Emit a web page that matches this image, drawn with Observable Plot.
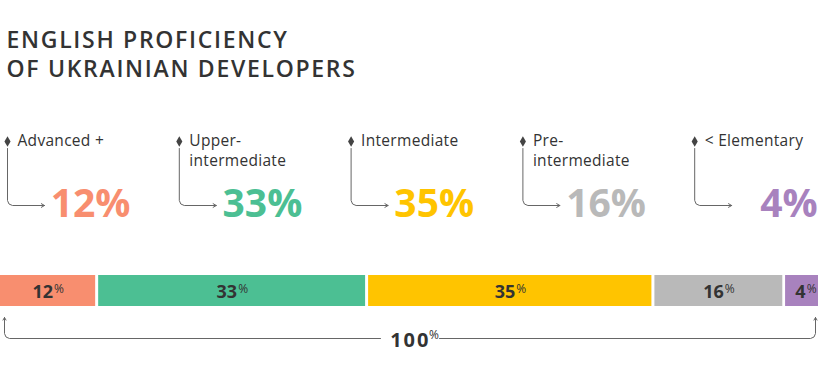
<!DOCTYPE html>
<html>
<head>
<meta charset="utf-8">
<script src="https://cdn.jsdelivr.net/npm/d3@7"></script>
<script src="https://cdn.jsdelivr.net/npm/@observablehq/plot@0.6"></script>
<style>
  html, body { margin: 0; padding: 0; background: #fff; }
  svg { display: block; font-family: "Open Sans", sans-serif; }
</style>
</head>
<body>
<div id="chart"></div>
<script>
// ---- data ----
const levels = ["Advanced +", "Upper-\nintermediate", "Intermediate", "Pre-\nintermediate", "< Elementary"];
const shares = [12, 33, 35, 16, 4];
const colors = ["#F88E6F", "#4CBF93", "#FFC400", "#B9B9B9", "#A882BE"];
const titleLines = ["ENGLISH PROFICIENCY", "OF UKRAINIAN DEVELOPERS"];
const totalLabel = "100";

const data = levels.map((level, i) => ({level, value: shares[i], color: colors[i], i}));

// layout helpers (pixel -> x data units; x domain 0..100 spans 818px)
const W = 819, H = 375, SPAN = 818;
const u = p => p * 100 / SPAN;
const slot = i => 7 + 171.8 * i; // pixel position of each annotation bullet
const last = levels.length - 1;

const barTop = 275, barBottom = 306;
const ink = "#333";
const lineCol = "#666";

// connectors for top annotations
const connectors = data.flatMap(d => {
  const p = slot(d.i);
  return [
    {i: d.i, x: u(p), y: 148},
    {i: d.i, x: u(p), y: 200},
    {i: d.i, x: u(p + 1.5), y: 203.5},
    {i: d.i, x: u(p + 5), y: 205},
    {i: d.i, x: u(p + 36), y: 205}
  ];
});

// bottom bracket
const bracketL = [
  {x: u(4), y: 320}, {x: u(4), y: 333}, {x: u(5.5), y: 336.5}, {x: u(9), y: 338}, {x: u(380), y: 338}
];
const bracketR = [
  {x: u(439), y: 338}, {x: u(810), y: 338}, {x: u(813.5), y: 336.5}, {x: u(815), y: 333}, {x: u(815), y: 320}
];

const chart = Plot.plot({
  width: W,
  height: H,
  margin: 0,
  x: {domain: [0, 100], range: [0, SPAN], axis: null},
  y: {domain: [0, H], range: [0, H], axis: null},
  style: {fontFamily: "'Open Sans', sans-serif", background: "#fff"},
  marks: [
    // title (single two-line text)
    Plot.text([titleLines.join("\n")], {
      x: () => u(6), y: () => 27, text: d => d,
      textAnchor: "start", lineAnchor: "top", lineHeight: 1.26,
      fontSize: 23, fontWeight: 600, fill: ink
    }),
    // bullets
    Plot.dot(data, {x: d => u(slot(d.i)), y: () => 141, symbol: "diamond", r: 3.2, fill: "#444", stroke: null}),
    // level labels
    Plot.text(data, {
      x: d => u(slot(d.i) + 10), y: () => 131, text: "level",
      textAnchor: "start", lineAnchor: "top", lineHeight: 1.3,
      fontSize: 15.5, fill: ink
    }),
    // connector lines
    Plot.line(connectors, {x: "x", y: "y", z: "i", stroke: lineCol, strokeWidth: 1}),
    Plot.arrow(data, {
      x1: d => u(slot(d.i) + 26), x2: d => u(slot(d.i) + 37), y1: () => 205, y2: () => 205,
      stroke: lineCol, strokeWidth: 1, headLength: 7
    }),
    // big percentages
    Plot.text(data, {
      x: d => u(slot(d.i) + 123), y: () => 204, text: d => d.value + "%",
      textAnchor: "end", lineAnchor: "middle", fontSize: 39, fontWeight: 700, fill: "color"
    }),
    // stacked bar (3px gaps between segments)
    Plot.rectX(data, {
      x: "value", y1: () => barTop, y2: () => barBottom, fill: "color",
      insetRight: 3
    }),
    // last segment runs to the right edge
    Plot.rectX(data, {
      x: "value", y1: () => barTop, y2: () => barBottom, fill: "color",
      fillOpacity: d => d.i === last ? 1 : 0
    }),
    // bar labels
    Plot.text(data, Plot.stackX({
      x: "value", y: () => 292, text: d => String(d.value),
      textAnchor: "end", dx: 3.5, fontSize: 18, fontWeight: 700, fill: ink
    })),
    Plot.text(data, Plot.stackX({
      x: "value", y: () => 288.5, text: () => "%",
      textAnchor: "start", dx: 4.5, fontSize: 12, fontWeight: 400, fill: ink
    })),
    // bottom bracket
    Plot.line(bracketL, {x: "x", y: "y", stroke: lineCol, strokeWidth: 1}),
    Plot.line(bracketR, {x: "x", y: "y", stroke: lineCol, strokeWidth: 1}),
    Plot.arrow([0], {x1: () => u(4), x2: () => u(4), y1: () => 326, y2: () => 317, stroke: lineCol, strokeWidth: 1, headLength: 6}),
    Plot.arrow([0], {x1: () => u(815), x2: () => u(815), y1: () => 326, y2: () => 317, stroke: lineCol, strokeWidth: 1, headLength: 6}),
    Plot.text([totalLabel], {
      x: () => u(430), y: () => 340, text: d => d,
      textAnchor: "end", fontSize: 20, fontWeight: 700, fill: ink
    }),
    Plot.text(["%"], {
      x: () => u(428.5), y: () => 335, text: d => d,
      textAnchor: "start", fontSize: 12, fontWeight: 400, fill: ink
    })
  ]
});

// letter spacing (not a Plot text option): widen the title, labels and total like the original typeface
const textGroups = d3.select(chart).selectAll('g[aria-label="text"]').nodes();
d3.select(textGroups[0]).attr("letter-spacing", 1.7);   // title
d3.select(textGroups[1]).attr("letter-spacing", 0.3);   // level labels
d3.select(chart).selectAll("text").filter(function() { return this.textContent === totalLabel; })
  .attr("letter-spacing", 2);

document.getElementById("chart").appendChild(chart);
</script>
</body>
</html>
